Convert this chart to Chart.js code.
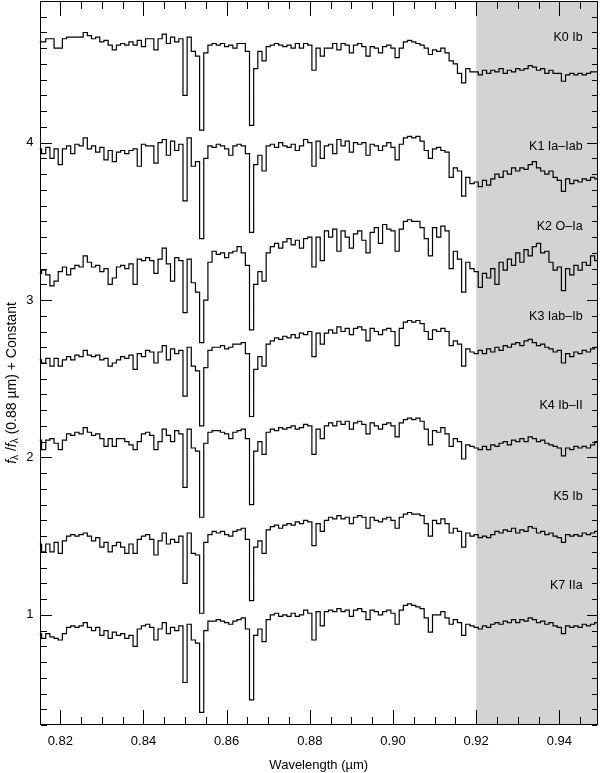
<!DOCTYPE html>
<html>
<head>
<meta charset="utf-8">
<title>K supergiant spectra</title>
<script src="https://cdn.jsdelivr.net/npm/chart.js@4.4.1/dist/chart.umd.min.js"></script>
<style>
  html, body { margin: 0; padding: 0; background: #fff; }
  #wrap { width: 600px; height: 773px; }
</style>
</head>
<body>
<div id="wrap"><canvas id="spectraChart" width="600" height="773"></canvas></div>
<script>
// wavelength grid (µm): first sample and spacing
const WAVE_START = 0.815;
const WAVE_STEP = 0.001;

// normalised flux + offset, one sample per grid point
const k0Ib = [
  4.64,4.64,4.66,4.66,4.60,4.60,4.66,4.67,4.67,4.67,
  4.67,4.70,4.68,4.66,4.67,4.64,4.65,4.62,4.59,4.62,
  4.63,4.62,4.64,4.62,4.65,4.61,4.66,4.66,4.59,4.66,
  4.69,4.63,4.67,4.64,4.66,4.30,4.67,4.58,4.55,4.08,
  4.57,4.62,4.63,4.62,4.63,4.61,4.62,4.60,4.63,4.63,
  4.58,4.11,4.47,4.58,4.52,4.61,4.62,4.63,4.62,4.61,
  4.62,4.60,4.63,4.60,4.63,4.62,4.46,4.60,4.55,4.60,
  4.60,4.63,4.59,4.63,4.62,4.57,4.62,4.63,4.61,4.55,
  4.61,4.60,4.57,4.61,4.62,4.60,4.54,4.60,4.64,4.65,
  4.64,4.63,4.62,4.60,4.56,4.59,4.58,4.60,4.57,4.52,
  4.50,4.44,4.38,4.47,4.45,4.45,4.43,4.46,4.44,4.46,
  4.45,4.47,4.44,4.46,4.45,4.47,4.46,4.47,4.49,4.48,
  4.46,4.47,4.44,4.46,4.44,4.44,4.39,4.43,4.44,4.43,
  4.44,4.43,4.44,4.45,4.45,4.46
];
const k1IaIab = [
  3.96,3.93,3.97,3.90,3.96,3.86,3.96,3.98,3.93,3.99,
  3.98,4.03,3.96,3.98,3.94,3.97,3.89,3.95,3.88,3.94,
  3.95,3.93,3.95,3.96,3.85,3.99,3.98,3.98,3.87,4.00,
  4.02,3.92,4.01,3.95,3.99,3.63,4.03,3.85,3.88,3.39,
  3.90,3.98,3.97,3.99,3.98,3.96,3.92,3.98,3.99,3.98,
  3.93,3.43,3.86,3.92,3.82,3.98,3.99,3.97,4.00,3.98,
  3.97,3.99,3.95,3.98,4.02,4.00,3.85,4.01,3.90,3.98,
  3.99,3.93,4.02,3.98,4.01,3.94,4.00,3.99,4.00,3.92,
  3.99,3.98,3.95,3.98,4.00,3.97,3.89,3.99,4.03,4.04,
  4.03,4.04,4.01,3.95,3.90,3.96,3.97,3.95,3.94,3.78,
  3.84,3.82,3.66,3.78,3.74,3.75,3.72,3.76,3.73,3.77,
  3.80,3.78,3.82,3.80,3.84,3.82,3.84,3.83,3.86,3.88,
  3.84,3.82,3.80,3.82,3.78,3.76,3.69,3.77,3.74,3.76,
  3.75,3.77,3.76,3.78,3.77,3.80
];
const k2OIa = [
  3.17,3.19,3.16,3.09,3.12,3.18,3.21,3.16,3.20,3.22,
  3.21,3.28,3.24,3.21,3.22,3.18,3.20,3.10,3.14,3.21,
  3.22,3.20,3.23,3.10,3.26,3.25,3.27,3.25,3.17,3.26,
  3.33,3.23,3.12,3.27,3.25,2.92,3.26,3.11,3.05,2.73,
  3.00,3.24,3.31,3.29,3.30,3.27,3.30,3.31,3.34,3.30,
  3.22,2.81,3.10,3.18,3.12,3.30,3.34,3.36,3.33,3.37,
  3.39,3.35,3.38,3.33,3.39,3.40,3.21,3.40,3.25,3.44,
  3.40,3.45,3.31,3.44,3.40,3.33,3.42,3.44,3.38,3.30,
  3.43,3.46,3.36,3.48,3.45,3.44,3.31,3.45,3.50,3.51,
  3.50,3.50,3.46,3.39,3.28,3.46,3.40,3.47,3.44,3.20,
  3.31,3.26,3.05,3.24,3.20,3.18,3.08,3.17,3.14,3.20,
  3.10,3.24,3.19,3.26,3.22,3.30,3.24,3.32,3.28,3.34,
  3.36,3.30,3.31,3.24,3.19,3.21,3.06,3.20,3.16,3.22,
  3.19,3.24,3.22,3.28,3.25,3.30
];
const k3IabIb = [
  2.62,2.60,2.63,2.58,2.63,2.58,2.62,2.64,2.62,2.65,
  2.64,2.68,2.65,2.64,2.65,2.62,2.63,2.58,2.60,2.62,
  2.64,2.63,2.65,2.56,2.66,2.64,2.68,2.67,2.60,2.67,
  2.71,2.62,2.69,2.66,2.68,2.39,2.70,2.58,2.55,2.20,
  2.57,2.68,2.70,2.70,2.71,2.69,2.70,2.72,2.72,2.73,
  2.66,2.26,2.56,2.64,2.58,2.72,2.74,2.76,2.75,2.77,
  2.76,2.78,2.76,2.79,2.78,2.80,2.64,2.79,2.72,2.79,
  2.81,2.79,2.83,2.80,2.82,2.78,2.82,2.83,2.81,2.74,
  2.82,2.80,2.78,2.81,2.82,2.80,2.71,2.82,2.86,2.87,
  2.86,2.87,2.85,2.80,2.75,2.81,2.80,2.82,2.80,2.71,
  2.74,2.72,2.58,2.69,2.67,2.66,2.68,2.66,2.69,2.67,
  2.70,2.68,2.71,2.70,2.72,2.73,2.71,2.74,2.75,2.73,
  2.71,2.72,2.70,2.69,2.67,2.68,2.60,2.66,2.64,2.67,
  2.66,2.68,2.67,2.69,2.70,2.74
];
const k4IbII = [
  2.11,2.05,2.11,2.12,2.09,2.05,2.11,2.15,2.14,2.16,
  2.15,2.19,2.16,2.14,2.15,2.12,2.07,2.12,2.07,2.12,
  2.12,2.10,2.08,2.05,2.10,2.15,2.16,2.14,2.05,2.10,
  2.18,2.14,2.10,2.17,2.15,1.81,2.18,2.06,2.04,1.62,
  2.09,2.16,2.17,2.17,2.16,2.15,2.12,2.16,2.17,2.18,
  2.12,1.70,2.04,2.10,2.02,2.16,2.18,2.17,2.19,2.18,
  2.19,2.20,2.18,2.19,2.21,2.20,2.02,2.18,2.12,2.20,
  2.22,2.20,2.23,2.21,2.23,2.18,2.22,2.23,2.21,2.15,
  2.22,2.20,2.18,2.21,2.22,2.20,2.13,2.22,2.24,2.25,
  2.24,2.25,2.23,2.18,2.08,2.17,2.16,2.19,2.15,2.07,
  2.12,2.10,1.99,2.08,2.07,2.06,2.05,2.07,2.05,2.08,
  2.07,2.09,2.10,2.08,2.11,2.10,2.12,2.10,2.13,2.12,
  2.10,2.11,2.09,2.08,2.07,2.06,2.01,2.06,2.05,2.07,
  2.06,2.07,2.06,2.08,2.10,2.11
];
const k5Ib = [
  1.45,1.40,1.45,1.40,1.46,1.39,1.47,1.50,1.51,1.50,
  1.51,1.52,1.50,1.47,1.49,1.43,1.46,1.40,1.44,1.46,
  1.43,1.39,1.45,1.39,1.48,1.50,1.51,1.48,1.38,1.47,
  1.52,1.45,1.48,1.46,1.50,1.20,1.52,1.39,1.38,1.01,
  1.46,1.51,1.53,1.52,1.53,1.51,1.50,1.53,1.54,1.55,
  1.48,1.09,1.43,1.47,1.39,1.54,1.56,1.57,1.55,1.57,
  1.58,1.57,1.59,1.58,1.60,1.59,1.44,1.58,1.53,1.60,
  1.62,1.61,1.63,1.61,1.62,1.58,1.62,1.63,1.62,1.55,
  1.62,1.60,1.59,1.61,1.62,1.60,1.55,1.62,1.64,1.65,
  1.64,1.64,1.63,1.58,1.50,1.60,1.58,1.61,1.58,1.52,
  1.55,1.53,1.43,1.52,1.50,1.51,1.49,1.50,1.49,1.51,
  1.53,1.52,1.54,1.53,1.55,1.52,1.54,1.53,1.56,1.55,
  1.52,1.53,1.51,1.52,1.50,1.49,1.46,1.51,1.50,1.51,
  1.50,1.52,1.51,1.52,1.53,1.55
];
const k7IIa = [
  0.88,0.85,0.88,0.86,0.85,0.84,0.88,0.92,0.93,0.92,
  0.93,0.95,0.92,0.90,0.92,0.87,0.90,0.85,0.89,0.87,
  0.88,0.85,0.87,0.80,0.91,0.93,0.94,0.92,0.84,0.91,
  0.95,0.88,0.92,0.90,0.93,0.57,0.94,0.84,0.82,0.38,
  0.90,0.96,0.96,0.97,0.96,0.95,0.94,0.96,0.97,0.98,
  0.91,0.46,0.87,0.91,0.83,0.97,1.00,1.01,0.99,1.00,
  0.99,1.01,0.99,1.00,1.03,1.01,0.84,1.02,0.93,1.02,
  1.03,1.02,1.04,1.02,1.03,0.99,1.03,1.04,1.02,0.97,
  1.03,1.02,1.00,1.02,1.03,1.01,0.94,1.03,1.06,1.07,
  1.06,1.05,1.04,0.98,0.89,1.00,1.00,1.02,0.98,0.94,
  0.97,0.95,0.87,0.94,0.93,0.92,0.91,0.93,0.92,0.94,
  0.95,0.94,0.96,0.95,0.97,0.95,0.97,0.96,0.98,0.97,
  0.95,0.96,0.94,0.95,0.93,0.92,0.88,0.93,0.92,0.93,
  0.92,0.94,0.93,0.94,0.95,0.97
];

const spectralTypes = ['K0 Ib', 'K1 Ia–Iab', 'K2 O–Ia', 'K3 Iab–Ib', 'K4 Ib–II', 'K5 Ib', 'K7 IIa'];
const typeLabelLevels = [4.667, 3.975, 3.464, 2.898, 2.332, 1.750, 1.189];
const TYPE_LABEL_X = 0.9456;

const X_MIN = 0.815;
const X_MAX = 0.9493;
const Y_MIN = 0.3;
const Y_MAX = 4.9;
const SHADE_FROM = 0.92;

// tick steps, in thousandths of µm for x and tenths for y
const X_MINOR_STEP = 5;
const X_MAJOR_STEP = 20;
const Y_MINOR_STEP = 1;
const Y_MAJOR_STEP = 10;

const FONT = '"Liberation Sans", Helvetica, Arial, sans-serif';

const allSpectra = [k0Ib, k1IaIab, k2OIa, k3IabIb, k4IbII, k5Ib, k7IIa];

function toPoints(values) {
    return values.map((v, i) => ({ x: WAVE_START + i * WAVE_STEP, y: v }));
}

function isMajorX(v) {
    return Math.round(v * 1000) % X_MAJOR_STEP === 0;
}

function isMajorY(v) {
    return Math.round(v * 10) % Y_MAJOR_STEP === 0;
}

function drawYTitle(ctx, cx, cy) {
    const parts = [
        { t: 'f', font: 'italic 14px ' + FONT, dy: 0 },
        { t: 'λ', font: '10px ' + FONT, dy: 3 },
        { t: ' /', font: '14px ' + FONT, dy: 0 },
        { t: 'f', font: 'italic 14px ' + FONT, dy: 0 },
        { t: 'λ', font: '10px ' + FONT, dy: 3 },
        { t: ' (0.88 µm) + Constant', font: '14px ' + FONT, dy: 0 },
    ];
    ctx.save();
    let total = 0;
    parts.forEach(p => {
        ctx.font = p.font;
        p.w = ctx.measureText(p.t).width;
        total += p.w;
    });
    ctx.translate(cx, cy);
    ctx.rotate(-Math.PI / 2);
    ctx.fillStyle = '#000';
    ctx.textBaseline = 'middle';
    ctx.textAlign = 'left';
    let pos = -total / 2;
    parts.forEach(p => {
        ctx.font = p.font;
        ctx.fillText(p.t, pos, p.dy);
        pos += p.w;
    });
    ctx.restore();
}

const frameAndTicks = {
    id: 'frameAndTicks',
    beforeDatasetsDraw(chart) {
        const { ctx, chartArea: a, scales: { x } } = chart;
        const x0 = x.getPixelForValue(SHADE_FROM);
        ctx.save();
        ctx.fillStyle = '#d3d3d3';
        ctx.fillRect(x0, a.top, a.right - x0, a.bottom - a.top);
        ctx.restore();
    },
    afterDatasetsDraw(chart) {
        const { ctx, chartArea: a, scales: { x, y } } = chart;
        const left = Math.round(a.left);
        const right = Math.round(a.right) - 1;
        const top = Math.round(a.top);
        const bottom = Math.round(a.bottom) - 1;

        ctx.save();
        ctx.fillStyle = '#000';

        // frame
        ctx.fillRect(left, top, right - left + 1, 1);
        ctx.fillRect(left, bottom, right - left + 1, 1);
        ctx.fillRect(left, top, 1, bottom - top + 1);
        ctx.fillRect(right, top, 1, bottom - top + 1);

        // inward ticks on all four sides
        const xFirst = Math.ceil(X_MIN * 1000 / X_MINOR_STEP - 1e-6);
        const xLast = Math.floor(X_MAX * 1000 / X_MINOR_STEP + 1e-6);
        for (let k = xFirst; k <= xLast; k++) {
            const value = k * X_MINOR_STEP / 1000;
            const px = Math.round(x.getPixelForValue(value));
            const len = isMajorX(value) ? 14 : 7;
            ctx.fillRect(px, bottom - len, 1, len);
            ctx.fillRect(px, top + 1, 1, len);
        }

        const yFirst = Math.ceil(Y_MIN * 10 / Y_MINOR_STEP - 1e-6);
        const yLast = Math.floor(Y_MAX * 10 / Y_MINOR_STEP + 1e-6);
        for (let k = yFirst; k <= yLast; k++) {
            const value = k * Y_MINOR_STEP / 10;
            const py = Math.round(y.getPixelForValue(value));
            const major = isMajorY(value);
            const lenL = major ? 11 : 6;
            const lenR = major ? 10 : 5;
            ctx.fillRect(left + 1, py, lenL, 1);
            ctx.fillRect(right - lenR, py, lenR, 1);
        }

        ctx.font = '12.5px ' + FONT;
        ctx.textAlign = 'right';
        ctx.textBaseline = 'middle';
        spectralTypes.forEach((name, i) => {
            ctx.fillText(name, x.getPixelForValue(TYPE_LABEL_X), y.getPixelForValue(typeLabelLevels[i]));
        });
        ctx.restore();

        drawYTitle(ctx, 12, 383);
    },
};

function fixScaleBox(size) {
    return function (scale) {
        if (scale.isHorizontal()) {
            scale.height = size;
        } else {
            scale.width = size;
        }
        scale.paddingTop = 0;
        scale.paddingBottom = 0;
        scale.paddingLeft = 0;
        scale.paddingRight = 0;
    };
}

new Chart(document.getElementById('spectraChart'), {
    type: 'line',
    data: {
        datasets: allSpectra.map((values, i) => ({
            label: spectralTypes[i],
            data: toPoints(values),
            borderColor: '#000',
            borderWidth: 1.2,
            stepped: 'middle',
            pointRadius: 0,
            fill: false,
        })),
    },
    options: {
        responsive: false,
        animation: false,
        devicePixelRatio: 1,
        layout: { padding: { top: 1, right: 2, bottom: 0, left: 0 } },
        plugins: {
            legend: { display: false },
            tooltip: { enabled: false },
        },
        scales: {
            x: {
                type: 'linear',
                min: X_MIN,
                max: X_MAX,
                afterFit: fixScaleBox(48),
                grid: { display: false, drawTicks: false },
                border: { display: false },
                ticks: {
                    stepSize: 0.005,
                    autoSkip: false,
                    maxRotation: 0,
                    padding: 9,
                    color: '#000',
                    font: { family: FONT, size: 13 },
                    callback: v => (isMajorX(v) ? v.toFixed(2) : null),
                },
                title: {
                    display: true,
                    text: 'Wavelength (µm)',
                    color: '#000',
                    font: { family: FONT, size: 13 },
                    padding: { top: 0, bottom: 0 },
                },
            },
            y: {
                type: 'linear',
                min: Y_MIN,
                max: Y_MAX,
                afterFit: fixScaleBox(39.5),
                grid: { display: false, drawTicks: false },
                border: { display: false },
                ticks: {
                    stepSize: 0.1,
                    autoSkip: false,
                    padding: 6,
                    color: '#000',
                    font: { family: FONT, size: 13 },
                    callback: v => (isMajorY(v) ? String(Math.round(v)) : null),
                },
            },
        },
    },
    plugins: [frameAndTicks],
});
</script>
</body>
</html>
